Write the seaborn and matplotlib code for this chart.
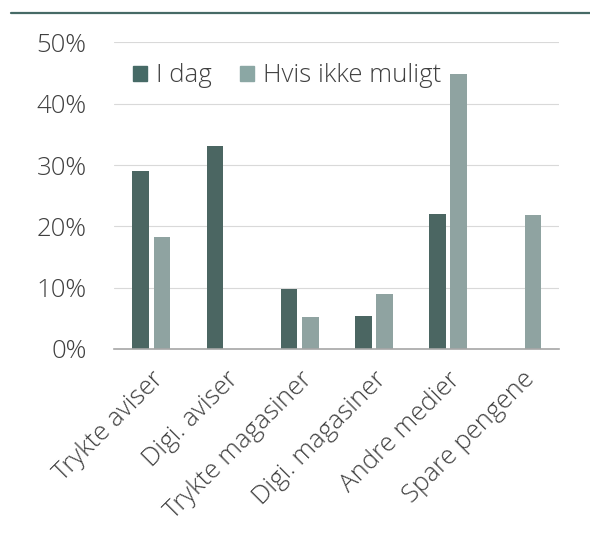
import pandas as pd
import matplotlib
matplotlib.use('Agg')
import matplotlib.pyplot as plt
import seaborn as sns
from matplotlib.lines import Line2D
from matplotlib.ticker import PercentFormatter

# Data (share of respondents)
categories = ['Trykte aviser', 'Digi. aviser', 'Trykte magasiner',
              'Digi. magasiner', 'Andre medier', 'Spare pengene']
i_dag = [0.290, 0.331, 0.098, 0.054, 0.221, 0.0]
hvis_ikke = [0.183, 0.0, 0.052, 0.089, 0.449, 0.219]
series = ['I dag', 'Hvis ikke muligt']
y_ticks = [0, 0.1, 0.2, 0.3, 0.4, 0.5]

dark = '#466a66'
light = '#8ba7a4'
text_col = '#404040'
fs = 18.5

df = pd.DataFrame({
    'Kategori': categories * 2,
    'Serie': [series[0]] * len(categories) + [series[1]] * len(categories),
    'Andel': i_dag + hvis_ikke,
})

sns.set_style('white')
plt.rcParams['font.family'] = ['Open Sans', 'DejaVu Sans']
plt.rcParams['font.weight'] = 'light'

fig = plt.figure(figsize=(5.9, 5.35), dpi=100)
ax = fig.add_axes([0.1937, 0.3477, 0.7543, 0.5729])

sns.barplot(data=df, x='Kategori', y='Andel', hue='Serie', order=categories,
            hue_order=series, palette=[dark, light], width=0.574, gap=0.22,
            linewidth=0, ax=ax, legend=False)

ax.set_ylim(0, 0.5)
ax.set_yticks(y_ticks)
ax.yaxis.set_major_formatter(PercentFormatter(1.0, decimals=0))
ax.set_xlabel('')
ax.set_ylabel('')
ax.grid(axis='y', color='#d9d9d9', linewidth=0.8)
ax.set_axisbelow(True)
for side in ['top', 'right', 'left']:
    ax.spines[side].set_visible(False)
ax.spines['bottom'].set_color('#a6a6a6')
ax.spines['bottom'].set_linewidth(1.2)

ax.tick_params(axis='y', length=0, pad=20, labelsize=fs, labelcolor=text_col)
ax.tick_params(axis='x', length=0, pad=13, labelsize=fs, labelcolor=text_col)
plt.setp(ax.get_xticklabels(), rotation=45, ha='right', va='top',
         rotation_mode='anchor')

# legend with square markers
handles = [plt.Rectangle((0, 0), 1, 1, color=c) for c in [dark, light]]
fig.legend(handles, series, loc='center left',
           bbox_to_anchor=(133 / 590, 1 - 76 / 535), ncol=2, frameon=False,
           fontsize=fs, labelcolor=text_col, handlelength=0.55,
           handleheight=0.55, handletextpad=0.35, columnspacing=1.1,
           borderaxespad=0, borderpad=0)

# dark rule across the top
fig.add_artist(Line2D([11 / 590, 1.0], [1 - 12.7 / 535] * 2,
                      color=dark, linewidth=1.6, transform=fig.transFigure))

plt.savefig('out.png', dpi=100)
